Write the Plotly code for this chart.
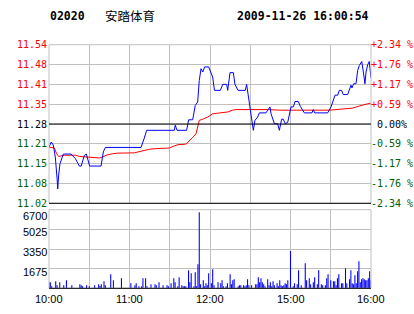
import plotly.graph_objects as go

W, H = 414, 314

# ---------------- data ----------------
title_code = "02020"
title_name = "安踏体育"
title_time = "2009-11-26 16:00:54"

prev_close = 11.28
half_range = 0.264
price_labels = ["11.54", "11.48", "11.41", "11.35", "11.28", "11.21", "11.15", "11.08", "11.02"]
pct_labels = ["+2.34 %", "+1.76 %", "+1.17 %", "+0.59 %", "0.00%", "-0.59 %", "-1.17 %", "-1.76 %", "-2.34 %"]
vol_labels = [6700, 5025, 3350, 1675]
time_labels = ["10:00", "11:00", "12:00", "15:00", "16:00"]
time_label_min = [0, 60, 120, 180, 240]

# price line (minute index from 10:00 on a 240-minute trading axis, price)
price_t = [0, 1.7, 3.2, 4.7, 6, 6.5, 7.2, 8.2, 10.7, 16.4, 19.6, 22.6, 24, 26.3, 27.8, 29, 30.3,
           38.8, 40.5, 42, 68.6, 70.8, 72.8, 93.4, 94.1, 95.4, 102.6, 104.1, 107.1, 109, 110.8,
           112, 113.3, 114.6, 116, 119, 120.7, 122, 123.3, 127.7, 129.5, 132.4, 133.2, 134.9,
           137.4, 138.6, 140.9, 146.3, 147.3, 148.3, 149.8, 151.3, 152.3, 153.5, 155.5, 156.8,
           161.7, 163, 164.7, 165.5, 168, 170.4, 171.7, 173.4, 174.6, 176.1, 177.9, 180.4, 182.1,
           183.4, 185.8, 187.3, 190.3, 196, 197, 198, 207.7, 210.2, 212.2, 213.2, 215.2, 216.4,
           218.1, 219.3, 222.6, 225.1, 225.8, 227.1, 228.8, 230.1, 231.3, 233.1, 234.3, 235.5,
           236.3, 237.5, 238.7, 240]
price_v = [11.203, 11.22, 11.21, 11.17, 11.10, 11.064, 11.11, 11.148, 11.18, 11.18, 11.165, 11.14,
           11.14, 11.175, 11.18, 11.159, 11.14, 11.14, 11.187, 11.202, 11.202, 11.23, 11.259,
           11.259, 11.276, 11.259, 11.259, 11.294, 11.294, 11.342, 11.353, 11.425, 11.464, 11.453,
           11.47, 11.47, 11.447, 11.436, 11.392, 11.392, 11.412, 11.412, 11.392, 11.451, 11.451,
           11.412, 11.392, 11.392, 11.412, 11.381, 11.331, 11.281, 11.259, 11.292, 11.303, 11.317,
           11.317, 11.326, 11.337, 11.314, 11.281, 11.281, 11.259, 11.296, 11.296, 11.281, 11.285,
           11.337, 11.337, 11.355, 11.355, 11.339, 11.317, 11.317, 11.328, 11.317, 11.317, 11.337,
           11.359, 11.376, 11.376, 11.392, 11.392, 11.378, 11.378, 11.409, 11.40, 11.414, 11.414,
           11.459, 11.475, 11.488, 11.453, 11.414, 11.453, 11.477, 11.488, 11.433]

# average price line
avg_t = [0, 4, 5.7, 7.2, 11.4, 19.6, 22.6, 31.3, 37.5, 40, 42.5, 47.5, 51.2, 63.6, 68.6, 72.3,
         74.8, 79.7, 89.7, 93.4, 95.9, 102.1, 104.6, 107.5, 109.6, 111, 112, 114.6, 118.3, 122,
         129.5, 133.2, 136.9, 139.4, 163, 171.7, 209, 218.9, 226.4, 231.3, 236.3, 240]
avg_v = [11.203, 11.20, 11.181, 11.172, 11.176, 11.176, 11.172, 11.17, 11.167, 11.17, 11.176,
         11.181, 11.183, 11.184, 11.189, 11.193, 11.196, 11.198, 11.20, 11.207, 11.211, 11.213,
         11.223, 11.237, 11.248, 11.276, 11.292, 11.296, 11.303, 11.314, 11.318, 11.32, 11.326,
         11.328, 11.328, 11.326, 11.326, 11.329, 11.333, 11.34, 11.347, 11.35]

# volume per minute
vol_t = [0, 1, 2, 5, 6, 8, 11, 13, 17, 23, 24, 25, 28, 30, 34, 37, 38, 39, 41, 42, 46, 48, 54, 61,
         64, 65, 67, 69, 70, 72, 73, 76, 79, 80, 82, 85, 88, 89, 91, 93, 94, 96, 97, 99, 100, 101,
         102, 104, 105, 106, 108, 109, 110, 111, 112, 113, 115, 116, 117, 118, 119, 121, 122, 123,
         126, 128, 129, 130, 132, 133, 135, 136, 137, 138, 141, 142, 143, 145, 146, 147, 148, 149,
         151, 154, 155, 156, 157, 158, 159, 160, 161, 163, 164, 165, 166, 167, 168, 170, 171, 172,
         173, 174, 175, 176, 177, 178, 180, 182, 183, 185, 186, 188, 191, 192, 194, 195, 197, 198,
         200, 201, 203, 204, 206, 207, 208, 210, 212, 213, 214, 215, 216, 218, 219, 221, 222, 224,
         225, 226, 227, 228, 229, 230, 231, 232, 233, 234, 235, 236, 237, 238, 239, 240]
vol_v = [510, 510, 170, 600, 260, 510, 260, 680, 260, 340, 260, 170, 260, 170, 260, 340, 200, 340,
         600, 260, 1190, 680, 850, 430, 260, 430, 170, 170, 850, 850, 170, 340, 340, 260, 510, 260,
         260, 170, 430, 850, 510, 170, 940, 260, 170, 170, 170, 1530, 510, 1280, 170, 1360, 170,
         2050, 6480, 340, 680, 170, 430, 260, 1280, 430, 1620, 260, 510, 430, 680, 170, 170, 430,
         1190, 340, 680, 770, 170, 260, 260, 260, 170, 260, 770, 260, 260, 340, 340, 940, 510, 850,
         510, 340, 170, 770, 260, 510, 170, 600, 260, 430, 170, 680, 260, 170, 260, 430, 340, 680,
         3170, 170, 430, 340, 1530, 260, 2130, 680, 850, 340, 510, 940, 340, 1530, 340, 260, 260,
         850, 1190, 680, 600, 600, 260, 850, 1190, 430, 430, 1700, 430, 770, 1530, 430, 340, 1110,
         430, 1450, 2300, 510, 770, 850, 770, 680, 680, 850, 1450, 680]

# ---------------- layout helpers ----------------
def fx(p):
    return p / W

def fy(p):
    return 1 - p / H

PL, PR = 49, 371
MAIN_T, MAIN_B = 44.7, 203.3
VOL_T, VOL_B = 209.7, 288.3
GRID = "#c0c0c0"
RED, GREEN, BLACK = "#ff0000", "#006000", "#000000"
MONO = "DejaVu Sans Mono"
SANS = "Liberation Sans, Arial, sans-serif"

n_lev = len(price_labels)
levels = [prev_close + half_range - i * (2 * half_range) / (n_lev - 1) for i in range(n_lev)]
vol_max = vol_labels[0]

fig = go.Figure()
fig.add_trace(go.Scatter(x=avg_t, y=avg_v, mode="lines", line=dict(color=RED, width=1),
                         xaxis="x", yaxis="y", hoverinfo="skip"))
fig.add_trace(go.Scatter(x=price_t, y=price_v, mode="lines", line=dict(color="#0000ff", width=1),
                         xaxis="x", yaxis="y", hoverinfo="skip"))
fig.add_trace(go.Bar(x=vol_t, y=vol_v, width=0.8, marker=dict(color="#0000ff", line=dict(width=0)),
                     xaxis="x2", yaxis="y2", hoverinfo="skip"))

grid_x = list(range(0, 241, 30))
ax_common = dict(showgrid=True, gridcolor=GRID, gridwidth=1, zeroline=False, showline=False,
                 ticks="", showticklabels=False, fixedrange=True)

fig.update_layout(
    width=W, height=H, margin=dict(l=0, r=0, t=0, b=0),
    paper_bgcolor="white", plot_bgcolor="white", showlegend=False,
    xaxis=dict(domain=[fx(PL), fx(PR)], range=[0, 240], anchor="y", tickvals=grid_x, **ax_common),
    yaxis=dict(domain=[fy(MAIN_B), fy(MAIN_T)], range=[levels[-1], levels[0]], anchor="x",
               tickvals=levels, **ax_common),
    xaxis2=dict(domain=[fx(PL), fx(PR)], range=[0, 240], anchor="y2", tickvals=grid_x, **ax_common),
    yaxis2=dict(domain=[fy(VOL_B), fy(VOL_T)], range=[0, vol_max], anchor="x2",
                tickvals=[0] + vol_labels, **ax_common),
)

shapes = [
    dict(type="rect", xref="paper", yref="paper", x0=fx(PL), x1=fx(PR), y0=fy(MAIN_B), y1=fy(MAIN_T),
         line=dict(color=GRID, width=1)),
    dict(type="rect", xref="paper", yref="paper", x0=fx(PL), x1=fx(PR), y0=fy(VOL_B), y1=fy(VOL_T),
         line=dict(color=GRID, width=1)),
    dict(type="line", xref="paper", yref="y", x0=fx(PL), x1=fx(PR), y0=prev_close, y1=prev_close,
         line=dict(color=BLACK, width=1)),
    dict(type="line", xref="paper", yref="paper", x0=fx(PL), x1=fx(PR), y0=fy(MAIN_B), y1=fy(MAIN_B),
         line=dict(color=BLACK, width=1)),
    dict(type="line", xref="paper", yref="paper", x0=fx(PL), x1=fx(PR), y0=fy(VOL_B), y1=fy(VOL_B),
         line=dict(color=BLACK, width=1)),
]

ann = []
mid = (n_lev - 1) // 2
for i, (lv, lab, pl) in enumerate(zip(levels, price_labels, pct_labels)):
    col = RED if i < mid else (BLACK if i == mid else GREEN)
    ann.append(dict(x=fx(PL - 1), y=lv, xref="paper", yref="y", text=lab, showarrow=False,
                    xanchor="right", yanchor="middle", borderpad=0,
                    font=dict(family=MONO, size=10, color=col)))
    shift = 0 if pl[0] in "+-" else 6
    ann.append(dict(x=fx(PR - 1), y=lv, xref="paper", yref="y", text=pl, showarrow=False,
                    xanchor="left", yanchor="middle", xshift=shift, borderpad=0,
                    font=dict(family=MONO, size=10, color=col)))
for v in vol_labels:
    ann.append(dict(x=fx(PL - 1), y=v, xref="paper", yref="y2", text=str(v), showarrow=False,
                    xanchor="right", yanchor="middle", yshift=(-6 if v == vol_max else -3),
                    borderpad=0, font=dict(family=SANS, size=11, color=BLACK)))
for t, lab in zip(time_label_min, time_labels):
    ann.append(dict(x=t, y=fy(299), xref="x2", yref="paper", text=lab, showarrow=False,
                    xanchor="center", yanchor="middle", borderpad=0,
                    font=dict(family=SANS, size=11, color=BLACK)))
ann.append(dict(x=fx(49), y=fy(16), xref="paper", yref="paper", text="<b>" + title_code + "</b>",
                showarrow=False, xanchor="left", yanchor="middle", borderpad=0,
                font=dict(family=MONO, size=11.5, color=BLACK)))
ann.append(dict(x=fx(104), y=fy(16), xref="paper", yref="paper", text=title_name,
                showarrow=False, xanchor="left", yanchor="middle", borderpad=0,
                font=dict(family="Noto Sans CJK SC", size=12.5, color=BLACK)))
ann.append(dict(x=fx(236), y=fy(16), xref="paper", yref="paper", text="<b>" + title_time + "</b>",
                showarrow=False, xanchor="left", yanchor="middle", borderpad=0,
                font=dict(family=MONO, size=11.5, color=BLACK)))

fig.update_layout(shapes=shapes, annotations=ann)
fig.write_html("out.html", config={"displayModeBar": False, "staticPlot": True})
